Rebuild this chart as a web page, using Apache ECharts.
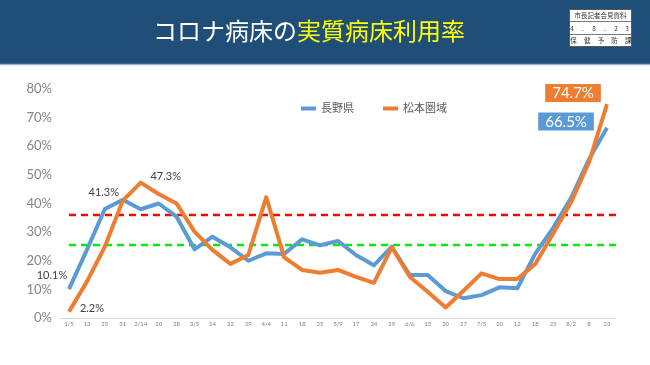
<!DOCTYPE html>
<html><head><meta charset="utf-8">
<script src="https://cdn.jsdelivr.net/npm/echarts@6/dist/echarts.min.js"></script>
<style>html,body{margin:0;padding:0;background:#fff}#c{width:650px;height:365px}</style>
</head><body><div id="c"></div>
<script>
const categories = ['1/5','13','25','31','2/14','20','28','3/5','14','22','29','4/4','11','18','25','5/9','17','24','29','6/6','15','20','27','7/5','10','12','18','25','8/2','8','23'];
const naganoValues = [10.1, 23.8, 38.1, 41.3, 38.0, 40.0, 35.4, 24.0, 28.4, 24.7, 20.0, 22.6, 22.4, 27.5, 25.4, 26.9, 22.0, 18.4, 24.9, 15.0, 15.0, 9.4, 6.9, 8.0, 10.7, 10.4, 22.5, 31.5, 42.0, 55.5, 66.5];
const matsumotoValues = [2.2, 12.7, 24.9, 41.0, 47.3, 43.3, 40.0, 30.2, 23.8, 18.9, 22.0, 42.2, 21.2, 16.8, 15.8, 16.8, 14.4, 12.3, 24.7, 14.4, 9.2, 3.7, 9.5, 15.6, 13.6, 13.6, 18.9, 29.5, 40.5, 54.5, 74.7];
const seriesNames = ['長野県', '松本圏域'];
const redLineValue = 36.0;
const greenLineValue = 25.5;
const yTicks = [0, 10, 20, 30, 40, 50, 60, 70, 80];
const titleWhite = 'コロナ病床の';
const titleYellow = '実質病床利用率';
const stampRow1 = '市長記者会見資料';
const stampRow2 = ['4', '.', '8', '.', '2', '3'];
const stampRow3 = ['保', '健', '予', '防', '課'];

const FONT = 'Lato, "Noto Sans CJK JP", sans-serif';
const BLUE = '#5b9bd5', ORANGE = '#ed7d31';

const plainLabel = (dx, dy) => ({show: true, position: 'top', offset: [dx, dy], formatter: p => p.value.toFixed(1) + '%', color: '#404040', fontSize: 11, fontFamily: FONT});
const boxLabel = (bg, dx, dy) => ({show: true, position: 'top', offset: [dx, dy], formatter: p => p.value.toFixed(1) + '%', color: '#fff', fontSize: 15, fontFamily: FONT, backgroundColor: bg, padding: [2, 7, 1, 7]});

const blueLabels = {0: plainLabel(-17, -3), 3: plainLabel(-19, 3), 30: boxLabel(BLUE, -41, 8)};
const orangeLabels = {0: plainLabel(23, 7), 4: plainLabel(25, 4), 30: boxLabel(ORANGE, -34, 3)};
const mk = (vals, labels) => vals.map((v, i) => labels[i] ? {value: v, label: labels[i]} : v);

const SF = '"Noto Sans CJK JP"';
const graphics = [
  {type: 'rect', shape: {x: 0, y: 0, width: 650, height: 64}, style: {fill: '#1f4e79'}, silent: true},
  {type: 'line', shape: {x1: 0, y1: 64.5, x2: 650, y2: 64.5}, style: {stroke: '#9fb5cf', lineWidth: 1.5}},
  {type: 'text', left: 153, top: 19, style: {rich: {w: {fill: '#fff', fontSize: 24, fontFamily: SF}, y: {fill: '#ffff00', fontSize: 24, fontFamily: SF}}, text: '{w|' + titleWhite + '}{y|' + titleYellow + '}'}},
  {type: 'rect', shape: {x: 569.5, y: 9.5, width: 62, height: 37}, style: {fill: '#fff', stroke: '#595959', lineWidth: 1}},
  {type: 'line', shape: {x1: 569.5, y1: 21.5, x2: 631.5, y2: 21.5}, style: {stroke: '#595959', lineWidth: 0.8}},
  {type: 'line', shape: {x1: 569.5, y1: 34.5, x2: 631.5, y2: 34.5}, style: {stroke: '#595959', lineWidth: 0.8}},
  {type: 'text', x: 600.5, y: 15.7, style: {text: stampRow1, fill: '#333', fontSize: 6.5, fontFamily: SF, align: 'center', verticalAlign: 'middle'}}
];
stampRow2.forEach((t, i) => graphics.push({type: 'text', x: 572 + i * 11, y: 28.3, style: {text: t, fill: '#333', fontSize: 6.5, fontFamily: SF, align: 'center', verticalAlign: 'middle'}}));
stampRow3.forEach((t, i) => graphics.push({type: 'text', x: 573.5 + i * 13.7, y: 41, style: {text: t, fill: '#333', fontSize: 6.5, fontFamily: SF, align: 'center', verticalAlign: 'middle'}}));

const chart = echarts.init(document.getElementById('c'), null, {renderer: 'canvas'});
chart.setOption({
  animation: false,
  backgroundColor: '#fff',
  graphic: graphics,
  grid: {left: 60, right: 34, top: 89, bottom: 47, containLabel: false},
  legend: {
    data: seriesNames, left: 296, top: 98, itemWidth: 15, itemHeight: 4, itemGap: 29, icon: 'rect',
    textStyle: {color: '#595959', fontSize: 11, fontFamily: FONT}
  },
  xAxis: [
    {type: 'category', data: categories, boundaryGap: true,
     axisLine: {lineStyle: {color: '#d9d9d9', width: 1}}, axisTick: {show: false},
     axisLabel: {interval: 0, fontSize: 6, color: '#808080', margin: 3, fontFamily: FONT}},
    {type: 'value', min: -0.5, max: 30.5, show: false}
  ],
  yAxis: {type: 'value', min: yTicks[0], max: yTicks[yTicks.length - 1], interval: 10,
    axisLine: {show: false}, axisTick: {show: false}, splitLine: {show: false},
    axisLabel: {formatter: '{value}%', fontSize: 13, color: '#858585', margin: 8, fontFamily: FONT}},
  series: [
    {name: 'red', type: 'line', xAxisIndex: 1, data: [[0, redLineValue], [30.5, redLineValue]], symbol: 'none', z: 1,
     lineStyle: {color: '#ff0000', width: 2.5, type: [7, 5]}},
    {name: 'green', type: 'line', xAxisIndex: 1, data: [[0, greenLineValue], [30.5, greenLineValue]], symbol: 'none', z: 1,
     lineStyle: {color: '#00ee00', width: 2.5, type: [7, 5]}},
    {name: seriesNames[0], type: 'line', data: mk(naganoValues, blueLabels), symbol: 'circle', symbolSize: 0.1, showSymbol: true, z: 3,
     itemStyle: {color: BLUE}, lineStyle: {color: BLUE, width: 4, join: 'round'}, label: {show: false}},
    {name: seriesNames[1], type: 'line', data: mk(matsumotoValues, orangeLabels), symbol: 'circle', symbolSize: 0.1, showSymbol: true, z: 4,
     itemStyle: {color: ORANGE}, lineStyle: {color: ORANGE, width: 4, join: 'round'}, label: {show: false}}
  ]
});
</script></body></html>
